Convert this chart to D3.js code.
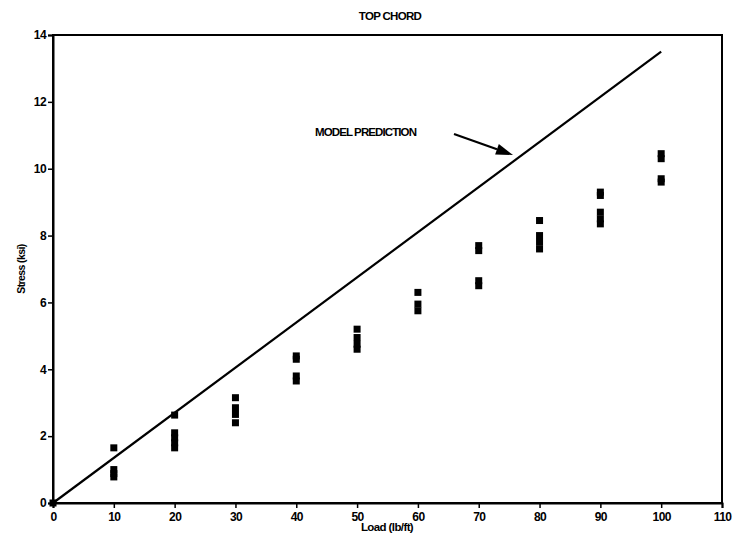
<!DOCTYPE html>
<html><head><meta charset="utf-8">
<script src="https://cdn.jsdelivr.net/npm/d3@7"></script>
<style>
body{margin:0;background:#fff;}
text{font-family:"Liberation Sans",Arial,sans-serif;font-weight:bold;fill:#000;}
</style></head>
<body><svg id="c" width="736" height="541"></svg>
<script>
const title = "TOP CHORD";
const xLabel = "Load (lb/ft)";
const yLabel = "Stress (ksi)";
const xTicks = [0,10,20,30,40,50,60,70,80,90,100,110];
const yTicks = [0,2,4,6,8,10,12,14];
const loads = [0,10,10,10,10,20,20,20,20,20,30,30,30,30,40,40,40,40,50,50,50,50,60,60,60,70,70,70,70,80,80,80,80,90,90,90,90,90,100,100,100,100];
const stresses = [0,1.65,1.0,0.88,0.78,2.63,2.1,1.95,1.8,1.65,3.15,2.85,2.65,2.4,4.4,4.3,3.8,3.65,5.2,4.95,4.75,4.6,6.3,5.95,5.75,7.7,7.55,6.65,6.5,8.45,8.0,7.8,7.6,9.3,9.2,8.7,8.5,8.35,10.45,10.3,9.7,9.6];
const modelLoads = [0,100];
const modelStress = [0,13.5];
const annotText = "MODEL PREDICTION";

const svg = d3.select("#c");
const m = {l:53, r:722, t:35, b:503};
const x = d3.scaleLinear().domain([0,110]).range([m.l,m.r]);
const y = d3.scaleLinear().domain([0,14]).range([m.b,m.t]);

// frame
svg.append("rect").attr("x",m.l).attr("y",m.t).attr("width",m.r-m.l).attr("height",m.b-m.t)
  .attr("fill","none").attr("stroke","#000").attr("stroke-width",2);

const xa = svg.append("g").attr("transform",`translate(0,${m.b})`)
  .call(d3.axisBottom(x).tickValues(xTicks).tickSize(5).tickPadding(4));
const ya = svg.append("g").attr("transform",`translate(${m.l},0)`)
  .call(d3.axisLeft(y).tickValues(yTicks).tickSize(5).tickPadding(2));
[xa,ya].forEach(a=>{
  a.select(".domain").attr("stroke-width",2);
  a.selectAll(".tick line").attr("stroke-width",1.5);
  a.selectAll("text").attr("font-size",12).attr("font-weight","bold")
   .attr("font-family","Liberation Sans, Arial, sans-serif").attr("letter-spacing","-0.6");
});

// model line
svg.append("path").datum(modelLoads.map((d,i)=>[d,modelStress[i]]))
  .attr("d",d3.line().x(d=>x(d[0])).y(d=>y(d[1])))
  .attr("fill","none").attr("stroke","#000").attr("stroke-width",2.2);

// points
svg.append("g").selectAll("rect").data(loads.map((d,i)=>[d,stresses[i]])).join("rect")
  .attr("x",d=>x(d[0])-3.5).attr("y",d=>y(d[1])-3.5).attr("width",7).attr("height",7)
  .attr("fill","#000");

// titles
svg.append("text").attr("x",390).attr("y",20).attr("text-anchor","middle")
  .attr("font-size",11.5).attr("letter-spacing","-0.7").text(title);
svg.append("text").attr("x",387).attr("y",531).attr("text-anchor","middle")
  .attr("font-size",11.5).attr("letter-spacing","-0.6").text(xLabel);
svg.append("text").attr("transform","translate(25,269) rotate(-90)").attr("text-anchor","middle")
  .attr("font-size",10.5).attr("letter-spacing","-0.6").text(yLabel);

// annotation
svg.append("text").attr("x",315).attr("y",136).attr("font-size",11.5).attr("letter-spacing","-0.9").text(annotText);
const a0 = [454,134], a1 = [513,155];
const dx = a1[0]-a0[0], dy = a1[1]-a0[1], L = Math.hypot(dx,dy), ux = dx/L, uy = dy/L;
const hl = 17, hw = 5.5;
const bx = a1[0]-ux*hl, by = a1[1]-uy*hl;
svg.append("line").attr("x1",a0[0]).attr("y1",a0[1]).attr("x2",bx).attr("y2",by)
  .attr("stroke","#000").attr("stroke-width",2.2);
svg.append("path").attr("d",`M${a1[0]},${a1[1]}L${bx-uy*hw},${by+ux*hw}L${bx+uy*hw},${by-ux*hw}Z`).attr("fill","#000");
</script></body></html>
